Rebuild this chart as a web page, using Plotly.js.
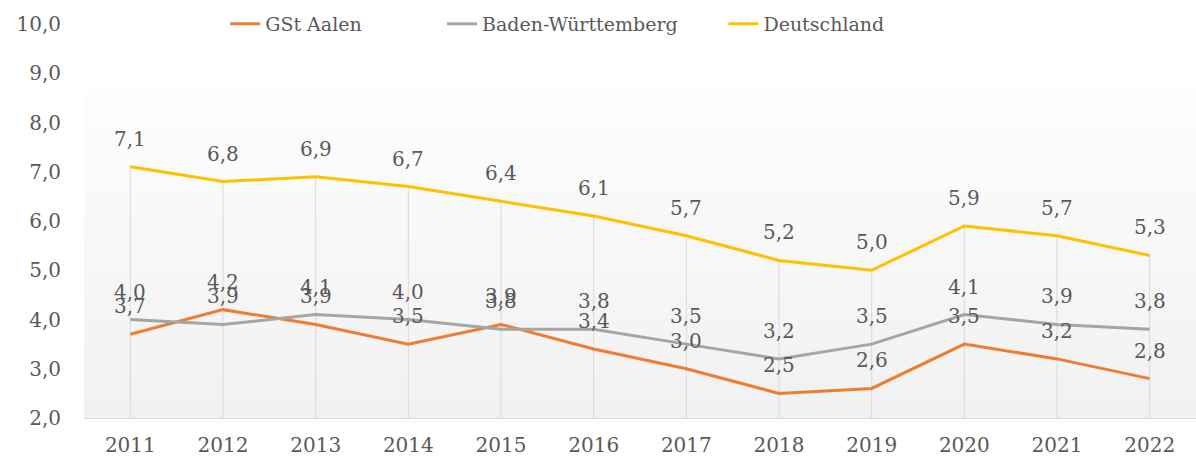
<!DOCTYPE html>
<html><head><meta charset="utf-8">
<script src="https://cdn.plot.ly/plotly-3.0.1.min.js"></script>
<style>html,body{margin:0;padding:0;background:#fff}#chart{width:1196px;height:463px}</style>
</head><body><div id="chart"></div>
<script>
const years = ['2011','2012','2013','2014','2015','2016','2017','2018','2019','2020','2021','2022'];
const aalen = [3.7, 4.2, 3.9, 3.5, 3.9, 3.4, 3.0, 2.5, 2.6, 3.5, 3.2, 2.8];
const bw    = [4.0, 3.9, 4.1, 4.0, 3.8, 3.8, 3.5, 3.2, 3.5, 4.1, 3.9, 3.8];
const de    = [7.1, 6.8, 6.9, 6.7, 6.4, 6.1, 5.7, 5.2, 5.0, 5.9, 5.7, 5.3];
const seriesNames = ['GSt Aalen', 'Baden-Württemberg', 'Deutschland'];
const seriesColors = ['#ED7D31', '#A5A5A5', '#FFC000'];
const yMin = 2, yMax = 10;

const FONT = 'DejaVu Serif';
const TXT = '#595959';

const fmt = v => v.toFixed(1).replace('.', ',');

const traces = [];
// drop lines from highest series to axis
traces.push({
  x: years, y: de, type: 'scatter', mode: 'markers',
  marker: {size: 1, opacity: 0}, showlegend: false, hoverinfo: 'skip',
  error_y: {type: 'data', symmetric: false, array: de.map(() => 0),
            arrayminus: de.map(v => v - yMin), width: 0, color: '#d9d9d9', thickness: 1}
});
const allSeries = [aalen, bw, de];
const legendIds = ['legend', 'legend2', 'legend3'];
allSeries.forEach((s, i) => {
  traces.push({
    x: years, y: s, type: 'scatter', mode: 'lines', name: seriesNames[i],
    line: {color: seriesColors[i], width: 3}, legend: legendIds[i]
  });
});

const annotations = [];
allSeries.forEach((s, i) => {
  s.forEach((v, j) => {
    annotations.push({x: j, y: v, xref: 'x', yref: 'y', text: fmt(v),
      showarrow: false, yshift: 28, font: {family: FONT, size: 20, color: TXT}});
  });
});

// subtle vertical gradient background in plot area (darker at bottom)
const shapes = [];
const bands = 40, gTop = 0.825;
for (let k = 0; k < bands; k++) {
  const t = k / (bands - 1);
  const c = Math.round(241 + t * 12);
  shapes.push({type: 'rect', xref: 'paper', yref: 'paper', x0: 0, x1: 1,
    y0: gTop * k / bands, y1: gTop * (k + 1) / bands + 0.002,
    fillcolor: `rgb(${c},${c},${c})`, line: {width: 0}, layer: 'below'});
}

const legFont = {family: FONT, size: 19, color: TXT};
const layout = {
  width: 1196, height: 463,
  margin: {l: 84, r: 0, t: 24, b: 45},
  paper_bgcolor: '#ffffff', plot_bgcolor: 'rgba(0,0,0,0)',
  separators: ',.',
  font: {family: FONT, size: 20, color: TXT},
  xaxis: {type: 'category', range: [-0.5, 11.5], showgrid: false, zeroline: false,
    showline: true, linecolor: '#d9d9d9', linewidth: 1, ticks: '',
    tickfont: {family: FONT, size: 20, color: TXT}, ticklabelstandoff: 9},
  yaxis: {range: [yMin, yMax], dtick: 1, tickformat: '.1f', showgrid: false,
    zeroline: false, showline: false, ticks: '', ticklabelstandoff: 22,
    tickfont: {family: FONT, size: 20, color: TXT}},
  legend:  {x: 0.127, y: 1.0, xanchor: 'left', yanchor: 'middle', font: legFont, bgcolor: 'rgba(0,0,0,0)'},
  legend2: {x: 0.322, y: 1.0, xanchor: 'left', yanchor: 'middle', font: legFont, bgcolor: 'rgba(0,0,0,0)'},
  legend3: {x: 0.575, y: 1.0, xanchor: 'left', yanchor: 'middle', font: legFont, bgcolor: 'rgba(0,0,0,0)'},
  annotations: annotations,
  shapes: shapes,
  showlegend: true
};
Plotly.newPlot('chart', traces, layout, {displayModeBar: false, staticPlot: true});
</script></body></html>
